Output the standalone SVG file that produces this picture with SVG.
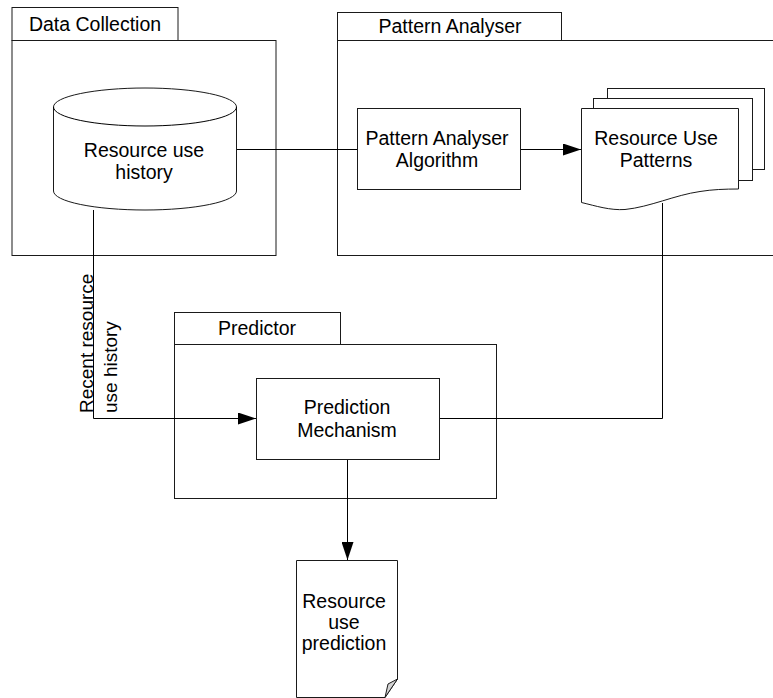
<svg xmlns="http://www.w3.org/2000/svg" width="773" height="698" viewBox="0 0 773 698">
<defs>
<style>
.fr{fill:#fff;stroke:#1a1a1a;stroke-width:1}
.ln{fill:none;stroke:#000;stroke-width:1}
.t{font-family:"Liberation Sans",Arial,sans-serif;font-size:19.5px;fill:#000;text-anchor:middle}
.tr{font-family:"Liberation Sans",Arial,sans-serif;font-size:19px;fill:#000;text-anchor:start}
</style>
<marker id="arr" viewBox="0 0 18 12" refX="18" refY="6" markerWidth="18" markerHeight="12" markerUnits="userSpaceOnUse" orient="auto">
<path d="M0,0 L18,6 L0,12 Z" fill="#000"/>
</marker>
</defs>
<rect width="773" height="698" fill="#fff"/>

<g id="data-collection">
<rect class="fr" x="12" y="7.5" width="166" height="33"/>
<rect class="fr" x="12" y="40.5" width="264" height="215"/>
<text class="t" x="95" y="31">Data Collection</text>
</g>

<g id="pattern-analyser">
<rect class="fr" x="337.5" y="12.5" width="224" height="28"/>
<rect class="fr" x="337.5" y="40.5" width="450" height="215"/>
<text class="t" x="450" y="33">Pattern Analyser</text>
</g>

<g id="predictor">
<rect class="fr" x="174.5" y="312.5" width="166" height="32"/>
<rect class="fr" x="174.5" y="344.5" width="322" height="154"/>
<text class="t" x="257" y="335">Predictor</text>
</g>

<g id="connectors">
<path class="ln" d="M236,149.5 H357"/>
<path class="ln" d="M520,149.5 H581" marker-end="url(#arr)"/>
<path class="ln" d="M93.5,210 V418.5 H256" marker-end="url(#arr)"/>
<path class="ln" d="M662.5,203 V418.5 H439"/>
<path class="ln" d="M347.5,459 V560" marker-end="url(#arr)"/>
</g>

<g id="resource-use-history">
<path class="fr" d="M53.5,107 V191 A91.5,19 0 0 0 236.5,191 V107 A91.5,19 0 0 0 53.5,107 Z"/>
<path class="ln" d="M53.5,107 A91.5,19 0 0 0 236.5,107"/>
<text class="t" x="144" y="157">Resource use</text>
<text class="t" x="144" y="179">history</text>
</g>

<g id="pattern-analyser-algorithm">
<rect class="fr" x="357.5" y="108.5" width="163" height="81"/>
<text class="t" x="437" y="145">Pattern Analyser</text>
<text class="t" x="437" y="167">Algorithm</text>
</g>

<g id="resource-use-patterns">
<rect class="fr" x="607.5" y="88.5" width="157" height="81"/>
<rect class="fr" x="593.5" y="98.5" width="159" height="82"/>
<path class="fr" d="M581.5,108.5 H738.5 V189 C725,189 712,189.5 700,191.5 C675,195 650,207 625,209.5 C610,210.5 596,206 581.5,202.5 Z"/>
<text class="t" x="656" y="145">Resource Use</text>
<text class="t" x="656" y="167">Patterns</text>
</g>

<g id="prediction-mechanism">
<rect class="fr" x="256.5" y="378.5" width="183" height="81"/>
<text class="t" x="347" y="414">Prediction</text>
<text class="t" x="347" y="437">Mechanism</text>
</g>

<g id="resource-use-prediction">
<path class="fr" d="M296.5,560.5 H397.5 V679 L385,697.5 H296.5 Z"/>
<path d="M397.5,679 L388,684 L385,697.5 Z" fill="#d4d4d4" stroke="#1a1a1a" stroke-width="1"/>
<text class="t" x="344" y="608">Resource</text>
<text class="t" x="344" y="629">use</text>
<text class="t" x="344" y="650">prediction</text>
</g>

<g id="connector-label">
<text class="tr" transform="translate(93,413) rotate(-90)">Recent resource</text>
<text class="tr" transform="translate(117,413) rotate(-90)">use history</text>
</g>
</svg>
